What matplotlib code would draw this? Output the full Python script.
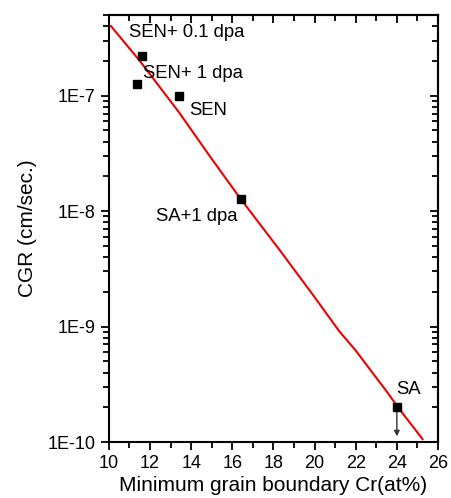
import matplotlib
matplotlib.use("Agg")
import matplotlib.pyplot as plt
from matplotlib.ticker import FixedLocator, FixedFormatter, MultipleLocator, LogLocator, NullFormatter

plt.rcParams['font.family'] = ['Liberation Sans', 'DejaVu Sans']

# Data
cr_points = [11.6, 11.35, 13.4, 16.4, 24.0]
cgr_points = [2.2e-7, 1.27e-7, 1.0e-7, 1.28e-8, 2.0e-10]
point_labels = ["SEN+ 0.1 dpa", "SEN+ 1 dpa", "SEN", "SA+1 dpa", "SA"]
label_x = [10.97, 11.67, 13.9, 12.29, 23.96]
label_y = [3.5e-7, 1.57e-7, 7.5e-8, 9.0e-9, 2.85e-10]

cr_line = [10.1, 11.5, 13.4, 14.9, 15.7, 16.4, 18.3, 20.0, 21.2, 22.0, 22.9, 23.5, 24.1, 25.25]
cgr_line = [4.0e-7, 2.0e-7, 7.2e-8, 3.0e-8, 1.9e-8, 1.28e-8, 4.6e-9, 1.8e-9, 9.1e-10,
            6.2e-10, 3.8e-10, 2.75e-10, 1.95e-10, 1.06e-10]

arrow_x = 24.0
arrow_from = 2.0e-10
arrow_to = 1.12e-10

yticks = [1e-10, 1e-9, 1e-8, 1e-7]
ytick_labels = ["1E-10", "1E-9", "1E-8", "1E-7"]
xticks = [10, 12, 14, 16, 18, 20, 22, 24, 26]

fig = plt.figure(figsize=(4.52, 4.98), dpi=100)
ax = fig.add_axes([0.241, 0.1124, 0.728, 0.8576])

ax.plot(cr_line, cgr_line, color='#ee0000', lw=1.5, zorder=2)
ax.plot(cr_points, cgr_points, 's', color='black', ms=5.8, zorder=3)
ax.annotate('', xy=(arrow_x, arrow_to), xytext=(arrow_x, arrow_from),
            arrowprops=dict(arrowstyle='-|>', color='#333333', lw=1.0,
                            mutation_scale=8, shrinkA=0, shrinkB=0), zorder=2)

for t, x, y in zip(point_labels, label_x, label_y):
    ax.text(x, y, t, fontsize=13.3, ha='left', va='center', color='black')

ax.set_yscale('log')
ax.set_xlim(10, 26)
ax.set_ylim(1e-10, 5e-7)

ax.xaxis.set_major_locator(FixedLocator(xticks))
ax.xaxis.set_minor_locator(MultipleLocator(1))
ax.yaxis.set_major_locator(FixedLocator(yticks))
ax.yaxis.set_major_formatter(FixedFormatter(ytick_labels))
ax.yaxis.set_minor_locator(LogLocator(base=10, subs=range(2, 10)))
ax.yaxis.set_minor_formatter(NullFormatter())

ax.tick_params(which='both', direction='out', labelsize=13, width=1.3, top=False, right=False)
ax.tick_params(which='major', length=6)
ax.tick_params(which='minor', length=4)

for s in ax.spines.values():
    s.set_linewidth(1.5)

secx = ax.secondary_xaxis('top')
secx.xaxis.set_major_locator(FixedLocator(xticks))
secx.xaxis.set_minor_locator(MultipleLocator(1))
secx.tick_params(which='both', direction='in', labeltop=False, width=1.3)
secx.tick_params(which='major', length=6)
secx.tick_params(which='minor', length=4)
secy = ax.secondary_yaxis('right')
secy.yaxis.set_major_locator(FixedLocator(yticks))
secy.yaxis.set_minor_locator(LogLocator(base=10, subs=range(2, 10)))
secy.yaxis.set_minor_formatter(NullFormatter())
secy.tick_params(which='both', direction='in', labelright=False, width=1.3)
secy.tick_params(which='major', length=6)
secy.tick_params(which='minor', length=4)
for sa in (secx, secy):
    for s in sa.spines.values():
        s.set_linewidth(1.5)

ax.set_xlabel('Minimum grain boundary Cr(at%)', fontsize=15, labelpad=3)
ax.set_ylabel('CGR (cm/sec.)', fontsize=15, labelpad=8)

fig.savefig('out.png', dpi=100)
